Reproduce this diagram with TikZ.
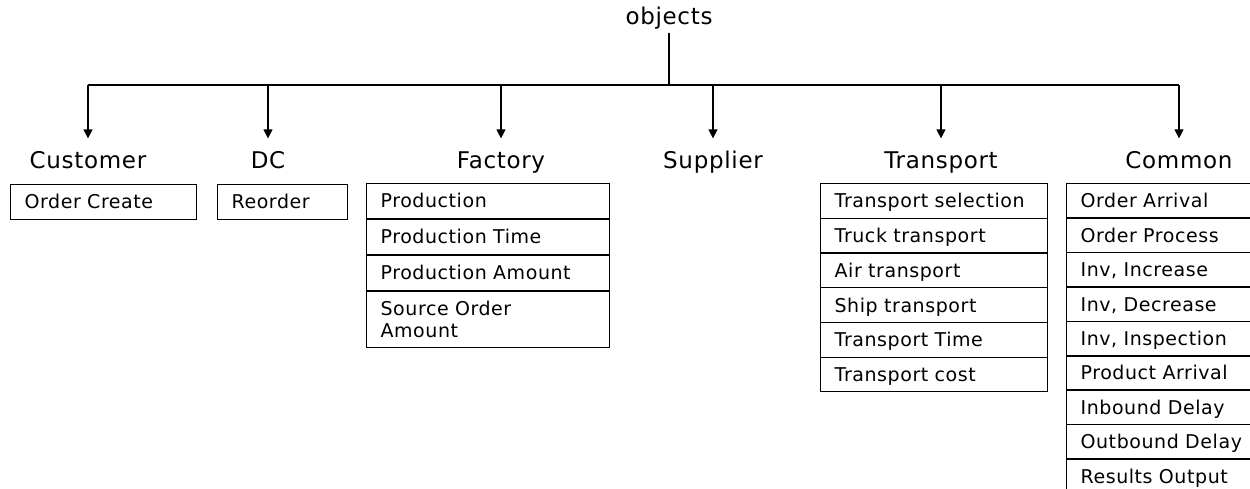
\documentclass[tikz,border=0pt]{standalone}
\usepackage{fontspec}
\setmainfont{DejaVu Sans}[LetterSpace=3]
\usetikzlibrary{arrows.meta,positioning}

\begin{document}
\begin{tikzpicture}[x=1pt,y=-1pt,line width=1.2pt,
		head/.style={anchor=base, font=\fontsize{23}{26}\selectfont, inner ysep=12pt, text height=17pt, text depth=5pt},
		item/.style={draw, anchor=north west, font=\fontsize{19}{22}\selectfont, inner xsep=14pt, align=left, minimum height=34.7pt, text height=16pt, text depth=2pt},
		tip/.style={-{Triangle[width=9pt,length=9pt]}}]
		\useasboundingbox (0,0) rectangle (1250,488);
		\clip (0,0) rectangle (1250,488);
		% root and the classes under it
		\node [anchor=base, font=\fontsize{23}{26}\selectfont] (root) at (669,24) {objects};
		\node [head] (customer) at (88,168) {Customer};
		\node [head] (dc) at (268,168) {DC};
		\node [head] (factory) at (501,168) {Factory};
		\node [head] (supplier) at (713,168) {Supplier};
		\node [head] (transport) at (941,168) {Transport};
		\node [head] (common) at (1179,168) {Common};
		\coordinate (bar) at (669,85);
		\draw (root.south) -- (bar);
		\draw (customer |- bar) -- (common |- bar);
		\foreach \n in {customer,dc,factory,supplier,transport,common}{
			\draw [tip] (\n |- bar) -- (\n.north);
		}
		% method lists
		\node [item, text width=158pt] (cus1) at (10,184) {Order Create};
		\node [item, text width=102pt] (dc1) at (217,184) {Reorder};
		\node [item, text width=215pt] (fac1) at (366,183) {Production};
		\node [item, text width=215pt, below=0pt of fac1] (fac2) {Production Time};
		\node [item, text width=215pt, below=0pt of fac2] (fac3) {Production Amount};
		\node [item, text width=215pt, below=0pt of fac3, text height=, text depth=, minimum height=56pt] (fac4) {Source Order\\Amount};
		\foreach \t [count=\i] in {Transport selection,Truck transport,Air transport,Ship transport,Transport Time,Transport cost}{
			\node [item, text width=199pt] (tra\i) at (820,{183+34.7*(\i-1)}) {\t};
		}
		\foreach \t [count=\i] in {Order Arrival,Order Process,{Inv, Increase},{Inv, Decrease},{Inv, Inspection},Product Arrival,Inbound Delay,Outbound Delay,Results Output}{
			\node [item, text width=172pt] (com\i) at (1066,{183+34.4*(\i-1)}) {\t};
		}
\end{tikzpicture}
\end{document}
